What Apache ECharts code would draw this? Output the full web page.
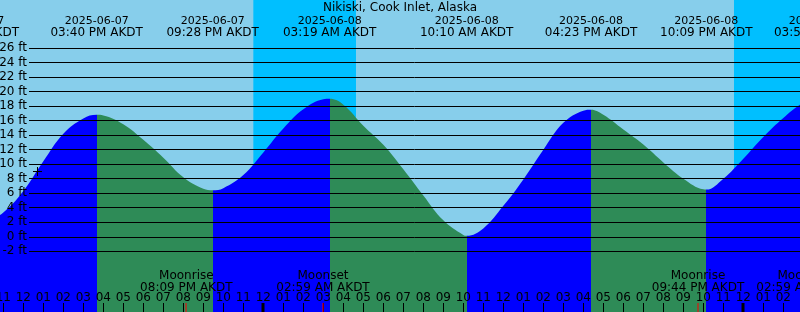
<!DOCTYPE html>
<html><head><meta charset="utf-8">
<script src="https://cdn.jsdelivr.net/npm/echarts@6/dist/echarts.min.js"></script>
<style>html,body{margin:0;padding:0;background:#87CEEB}#c{width:800px;height:312px}</style>
</head><body><div id="c"></div>
<script>
const chartTitle = 'Nikiski, Cook Inlet, Alaska';
// All times: hours since 2025-06-07 00:00 AKDT
const tideHours = [9.45, 10, 11, 12, 13, 14, 15, 15.667, 16, 17, 18, 19, 20, 21, 21.467, 22, 23, 24, 25, 26, 27, 27.317, 28, 29, 30, 31, 32, 33, 34, 34.167, 35, 36, 37, 38, 39, 40, 40.383, 41, 42, 43, 44, 45, 46, 46.15, 47, 48, 49, 50, 51, 51.867];
const tideFeet  = [1.5, 1.75, 3.35, 6.3, 10.4, 14.2, 16.3, 16.8, 16.72, 15.5, 13.35, 10.9, 8.2, 6.6, 6.4, 6.7, 8.5, 11.6, 14.9, 17.55, 18.93, 19.0, 18.2, 15.3, 12.67, 9.3, 5.7, 2.27, 0.25, 0.15, 1.15, 4.26, 7.9, 12.0, 15.7, 17.37, 17.5, 16.8, 14.77, 12.7, 10.24, 8.0, 6.53, 6.5, 8.0, 10.75, 13.75, 16.37, 18.45, 19.1];
const extremeHours = [9.45, 15.667, 21.467, 27.317, 34.167, 40.383, 46.15, 51.867];
const extremeTypes = ['L', 'H', 'L', 'H', 'L', 'H', 'L', 'H'];
const extremeDates = ['2025-06-07', '2025-06-07', '2025-06-07', '2025-06-08', '2025-06-08', '2025-06-08', '2025-06-08', '2025-06-09'];
const extremeTimes = ['09:27 AM AKDT', '03:40 PM AKDT', '09:28 PM AKDT', '03:19 AM AKDT', '10:10 AM AKDT', '04:23 PM AKDT', '10:09 PM AKDT', '03:52 AM AKDT'];
const nightStarts = [23.5, 47.533];
const nightEnds = [28.633, 53];
const moonHours = [20.15, 26.983, 45.733, 50.983];
const moonEvents = ['Moonrise', 'Moonset', 'Moonrise', 'Moonset'];
const moonTimes = ['08:09 PM AKDT', '02:59 AM AKDT', '09:44 PM AKDT', '02:59 AM AKDT'];
const midnightHours = [24, 48];
const hourTicks = [11, 12, 13, 14, 15, 16, 17, 18, 19, 20, 21, 22, 23, 24, 25, 26, 27, 28, 29, 30, 31, 32, 33, 34, 35, 36, 37, 38, 39, 40, 41, 42, 43, 44, 45, 46, 47, 48, 49, 50];
const hourLabels = ['11', '12', '01', '02', '03', '04', '05', '06', '07', '08', '09', '10', '11', '12', '01', '02', '03', '04', '05', '06', '07', '08', '09', '10', '11', '12', '01', '02', '03', '04', '05', '06', '07', '08', '09', '10', '11', '12', '01', '02'];
const nowHour = [12.7];
const nowFeet = [9.1];
const feetMin = -2, feetMax = 26, feetStep = 2;
const viewStartHour = 10.8333, viewEndHour = 50.8333;

const BLUE = '#0000FF', GREEN = '#2E8B57', NIGHT = '#00BFFF', SKY = '#87CEEB';
const FONT = 'DejaVu Sans';
const H = 312;
const lineTop = 48, lineBottom = 251.3;
const pxPerFt = (lineBottom - lineTop) / (feetMax - feetMin);
const Y0_MAX = feetMax + lineTop / pxPerFt;
const Y0_MIN = feetMin - (H - lineBottom) / pxPerFt;

const pieces = [];
pieces.push({ lt: extremeHours[0], color: extremeTypes[0] === 'L' ? GREEN : BLUE });
for (let i = 0; i < extremeHours.length - 1; i++) {
  pieces.push({ gte: extremeHours[i], lt: extremeHours[i + 1], color: extremeTypes[i] === 'L' ? BLUE : GREEN });
}
const lastI = extremeHours.length - 1;
pieces.push({ gte: extremeHours[lastI], color: extremeTypes[lastI] === 'L' ? BLUE : GREEN });

const chart = echarts.init(document.getElementById('c'), null, { renderer: 'canvas' });
chart.setOption({
  animation: false,
  backgroundColor: SKY,
  textStyle: { fontFamily: FONT },
  title: {
    text: chartTitle, left: 'center', top: 1.5, padding: 0,
    textStyle: { fontSize: 12, fontWeight: 'normal', color: '#000', fontFamily: FONT }
  },
  grid: [
    { left: 0, right: 0, top: 0, bottom: 0, containLabel: false, outerBoundsMode: 'none' },
    { left: 29, right: 0, top: lineTop, bottom: H - lineBottom, containLabel: false, outerBoundsMode: 'none' }
  ],
  xAxis: [
    {
      gridIndex: 0, type: 'value', min: viewStartHour, max: viewEndHour, z: 10,
      splitLine: { show: false }, axisLine: { show: false, onZero: false },
      axisTick: { show: true, inside: true, length: 9, customValues: hourTicks, lineStyle: { color: '#000', width: 1 } },
      axisLabel: {
        show: true, inside: true, margin: 8, customValues: hourTicks,
        formatter: v => hourLabels[hourTicks.indexOf(v)],
        color: '#000', fontSize: 12, fontFamily: FONT
      }
    },
    { gridIndex: 1, type: 'value', min: viewStartHour, max: viewEndHour, show: false, axisLine: { onZero: false } }
  ],
  yAxis: [
    { gridIndex: 0, type: 'value', min: Y0_MIN, max: Y0_MAX, show: false },
    {
      gridIndex: 1, type: 'value', min: feetMin, max: feetMax, interval: feetStep, z: 10,
      axisLine: { show: false, onZero: false }, axisTick: { show: false },
      splitLine: { show: true, lineStyle: { color: '#000', width: 1 } },
      axisLabel: { formatter: '{value} ft', margin: 2, color: '#000', fontSize: 12, fontFamily: FONT }
    }
  ],
  visualMap: { type: 'piecewise', show: false, dimension: 0, seriesIndex: 1, pieces: pieces },
  series: [
    {
      type: 'custom', name: 'night', xAxisIndex: 0, yAxisIndex: 0, z: 1, clip: true,
      data: nightStarts.map((s, i) => [s, nightEnds[i]]),
      renderItem: (params, api) => {
        const p0 = api.coord([api.value(0), Y0_MAX]);
        const p1 = api.coord([api.value(1), Y0_MIN]);
        return { type: 'rect', shape: { x: p0[0], y: p0[1], width: p1[0] - p0[0], height: p1[1] - p0[1] }, style: { fill: NIGHT } };
      }
    },
    {
      type: 'line', name: 'tide', xAxisIndex: 0, yAxisIndex: 0, z: 2,
      data: tideHours.map((h, i) => [h, tideFeet[i]]),
      smooth: 0.4, showSymbol: false, symbol: 'none',
      lineStyle: { width: 0 },
      areaStyle: { opacity: 1, origin: 'start' }
    },
    {
      type: 'custom', name: 'moonTicks', xAxisIndex: 0, yAxisIndex: 0, z: 11, clip: false,
      data: moonHours.map(h => [h, Y0_MIN]),
      renderItem: (params, api) => {
        const p = api.coord([api.value(0), api.value(1)]);
        return { type: 'rect', shape: { x: Math.round(p[0]) - 0.5, y: p[1] - 9, width: 1, height: 9 }, style: { fill: '#FF0000' } };
      }
    },
    {
      type: 'custom', name: 'midnightTicks', xAxisIndex: 0, yAxisIndex: 0, z: 11, clip: false,
      data: midnightHours.map(h => [h, Y0_MIN]),
      renderItem: (params, api) => {
        const p = api.coord([api.value(0), api.value(1)]);
        return { type: 'rect', shape: { x: Math.round(p[0]) - 1.5, y: p[1] - 9, width: 3, height: 9 }, style: { fill: '#000' } };
      }
    },
    {
      type: 'custom', name: 'moonLabels', xAxisIndex: 0, yAxisIndex: 0, z: 12, clip: false,
      data: moonHours.map(h => [h, Y0_MIN]),
      renderItem: (params, api) => {
        const p = api.coord([api.value(0), api.value(1)]);
        const i = params.dataIndex;
        return { type: 'text', x: p[0], y: 281.5, style: { text: moonEvents[i] + '\n' + moonTimes[i], align: 'center', verticalAlign: 'middle', lineHeight: 12, fontSize: 12, fontFamily: FONT, fill: '#000' } };
      }
    },
    {
      type: 'custom', name: 'tideLabels', xAxisIndex: 0, yAxisIndex: 0, z: 12, clip: false,
      data: extremeHours.map(h => [h, Y0_MAX]),
      renderItem: (params, api) => {
        const p = api.coord([api.value(0), api.value(1)]);
        const i = params.dataIndex;
        return { type: 'text', x: p[0], y: 27, style: {
          text: '{d|' + extremeDates[i] + '}\n{t|' + extremeTimes[i] + '}',
          align: 'center', verticalAlign: 'middle', fontFamily: FONT, fill: '#000',
          rich: {
            d: { fontSize: 11, lineHeight: 12, fontFamily: FONT, fill: '#000', align: 'center' },
            t: { fontSize: 12, lineHeight: 12, fontFamily: FONT, fill: '#000', align: 'center' }
          }
        } };
      }
    },
    {
      type: 'custom', name: 'now', xAxisIndex: 0, yAxisIndex: 0, z: 12, clip: false,
      data: nowHour.map((h, i) => [h, nowFeet[i]]),
      renderItem: (params, api) => {
        const p = api.coord([api.value(0), api.value(1)]);
        const cx = Math.round(p[0]) + 0.5, cy = Math.round(p[1]) + 0.5;
        return { type: 'group', children: [
          { type: 'line', shape: { x1: cx - 4.5, y1: cy, x2: cx + 4.5, y2: cy }, style: { stroke: '#000', lineWidth: 1 } },
          { type: 'line', shape: { x1: cx, y1: cy - 4.5, x2: cx, y2: cy + 4.5 }, style: { stroke: '#000', lineWidth: 1 } }
        ] };
      }
    }
  ]
});
</script>
</body></html>
